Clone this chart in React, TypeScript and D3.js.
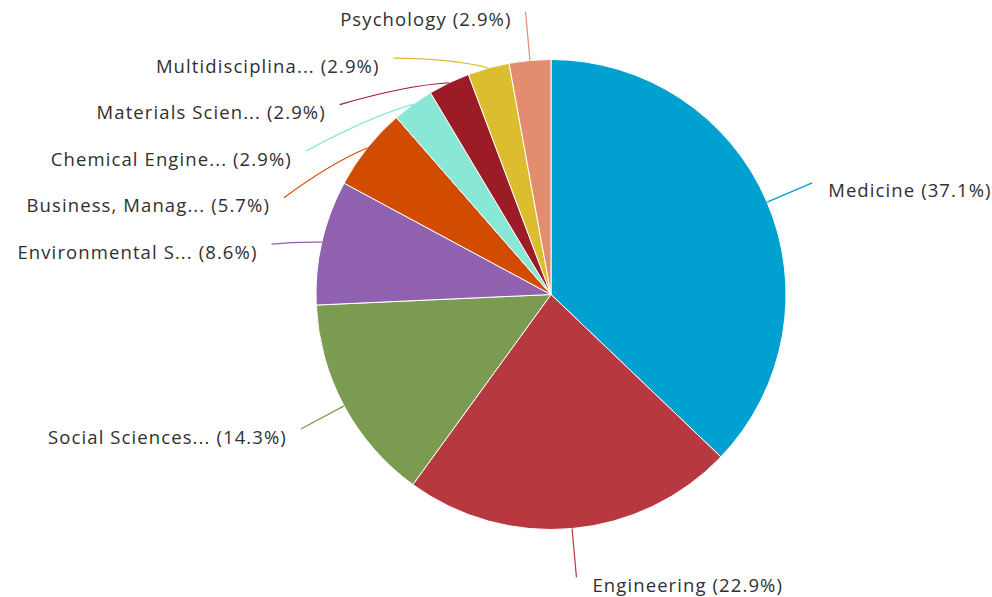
import * as d3 from 'd3'
import { useEffect } from 'react'

const categories = [
  'Medicine',
  'Engineering',
  'Social Sciences...',
  'Environmental S...',
  'Business, Manag...',
  'Chemical Engine...',
  'Materials Scien...',
  'Multidisciplina...',
  'Psychology',
]
const counts = [13, 8, 5, 3, 2, 1, 1, 1, 1]
const colors = ['#00a0d0', '#b7393f', '#7b9b51', '#9061ae', '#d14b00', '#88e7d5', '#9b1c27', '#dbbd2f', '#e38d6e']

export default function App() {
  useEffect(() => {
    drawPie()
  }, [])

  return <div id="pie-chart-area" style={{ position: 'absolute', left: 0, top: 0 }}></div>
}

const drawPie = () => {
  const WIDTH = 992
  const HEIGHT = 597
  const CX = 551
  const CY = 294.5
  const RADIUS = 235
  const LABEL_DISTANCE = 49
  const LABEL_GAP = 46.5

  d3.select('#pie-chart-area').selectAll('*').remove()

  const total = d3.sum(counts)
  const data = categories.map((name, i) => ({ name, value: counts[i], color: colors[i] }))

  const pie = d3.pie<any>().sort(null).value((d: any) => d.value)
  const arcs = pie(data)
  const arc = d3.arc<any>().innerRadius(0).outerRadius(RADIUS)

  const at = (a: number, r: number) => [CX + r * Math.sin(a), CY - r * Math.cos(a)]

  const svg = d3.select('#pie-chart-area').append('svg')
    .attr('width', WIDTH)
    .attr('height', HEIGHT)
    .style('display', 'block')
    .style('font-family', '"Open Sans", sans-serif')

  svg.append('g')
    .attr('transform', `translate(${CX},${CY})`)
    .selectAll('path')
    .data(arcs)
    .join('path')
    .attr('d', arc)
    .attr('fill', d => d.data.color)
    .attr('stroke', '#fff')
    .attr('stroke-width', 1)

  // label spots: natural point on the ray, then pushed apart on each side
  const labels = arcs.map(d => {
    const mid = (d.startAngle + d.endAngle) / 2
    const [nx, ny] = at(mid, RADIUS + LABEL_DISTANCE)
    return {
      d, mid, nx, ny, y: ny, x: nx,
      left: mid > Math.PI,
      touch: at(mid, RADIUS),
    }
  })

  const R = RADIUS + LABEL_DISTANCE
  ;[true, false].forEach(side => {
    const group = labels.filter(l => l.left === side).sort((a, b) => a.ny - b.ny)
    for (let i = 1; i < group.length; i++) {
      group[i].y = Math.max(group[i].ny, group[i - 1].y + LABEL_GAP)
    }
    for (let i = group.length - 2; i >= 0; i--) {
      if (group[i + 1].y > HEIGHT - 12) group[i + 1].y = HEIGHT - 12
      group[i].y = Math.min(group[i].y, group[i + 1].y - LABEL_GAP)
    }
    group.forEach(l => {
      const dy = l.y - CY
      const dx = Math.sqrt(Math.max(0, R * R - dy * dy))
      l.x = CX + (l.left ? -dx : dx)
    })
  })

  svg.append('g')
    .selectAll('path')
    .data(labels)
    .join('path')
    .attr('fill', 'none')
    .attr('stroke', l => l.d.data.color)
    .attr('stroke-width', 1.2)
    .attr('d', l => {
      // slight bend, like a soft connector
      const mx = (l.x + l.touch[0]) / 2
      const my = (l.y + l.touch[1]) / 2
      const [bx, by] = at(l.mid, RADIUS + LABEL_DISTANCE / 2)
      const cx = mx + (bx - mx) * 0.25
      const cy = my + (by - my) * 0.25
      return `M${l.x},${l.y}Q${cx},${cy} ${l.touch[0]},${l.touch[1]}`
    })

  svg.append('g')
    .selectAll('text')
    .data(labels)
    .join('text')
    .attr('x', l => l.x + (l.left ? -14 : 16))
    .attr('y', l => l.y + 8)
    .attr('dy', '0.35em')
    .attr('text-anchor', l => (l.left ? 'end' : 'start'))
    .attr('font-size', 18.5)
    .attr('letter-spacing', 1.1)
    .attr('fill', '#303030')
    .text(l => `${l.d.data.name} (${d3.format('.1f')((l.d.data.value / total) * 100)}%)`)
}
